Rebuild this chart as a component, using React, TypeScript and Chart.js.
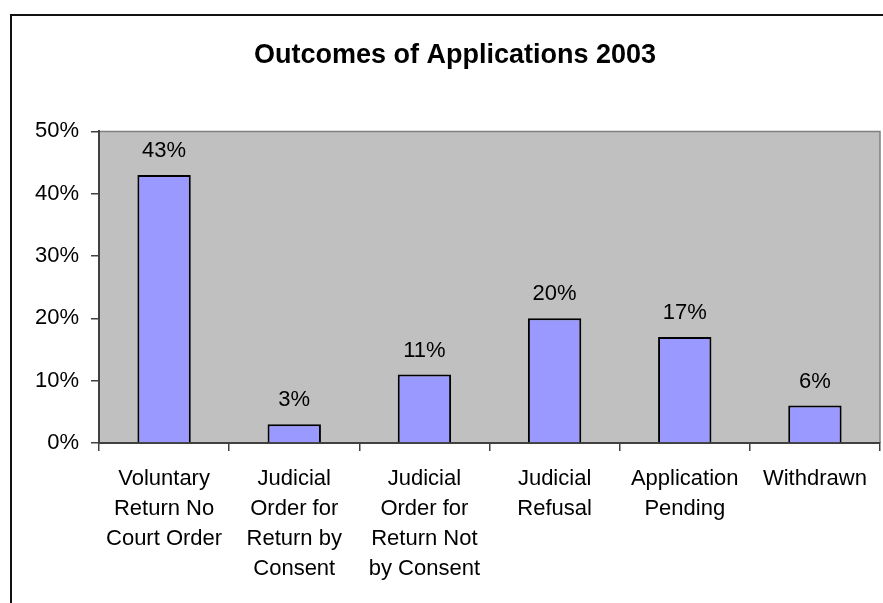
import React, { useEffect, useRef } from "react";
import { Chart, registerables } from "chart.js";

Chart.register(...registerables);

const TITLE = "Outcomes of Applications 2003";
const categories: string[][] = [
  ["Voluntary", "Return No", "Court Order"],
  ["Judicial", "Order for", "Return by", "Consent"],
  ["Judicial", "Order for", "Return Not", "by Consent"],
  ["Judicial", "Refusal"],
  ["Application", "Pending"],
  ["Withdrawn"],
];
const values: number[] = [43, 3, 11, 20, 17, 6];
const yMin = 0;
const yMax = 50;
const yStep = 10;

const FONT = "Arial, 'Liberation Sans', sans-serif";
const W = 883;
const H = 603;

const framePlugin = {
  id: "frame",
  beforeDraw(chart: any) {
    const { ctx, chartArea: a } = chart;
    ctx.save();
    ctx.fillStyle = "#ffffff";
    ctx.fillRect(0, 0, chart.width, chart.height);
    ctx.fillStyle = "#C0C0C0";
    ctx.fillRect(a.left, a.top, a.right - a.left, a.bottom - a.top);
    ctx.strokeStyle = "#808080";
    ctx.lineWidth = 1.5;
    ctx.beginPath();
    ctx.moveTo(a.left, a.top);
    ctx.lineTo(a.right, a.top);
    ctx.lineTo(a.right, a.bottom);
    ctx.stroke();
    ctx.strokeStyle = "#111111";
    ctx.lineWidth = 2;
    ctx.beginPath();
    ctx.moveTo(11, chart.height);
    ctx.lineTo(11, 15);
    ctx.lineTo(chart.width, 15);
    ctx.stroke();
    ctx.restore();
  },
  afterDatasetsDraw(chart: any) {
    const { ctx } = chart;
    const meta = chart.getDatasetMeta(0);
    ctx.save();
    ctx.fillStyle = "#000000";
    ctx.font = `22px ${FONT}`;
    ctx.textAlign = "center";
    ctx.textBaseline = "middle";
    meta.data.forEach((bar: any, i: number) => {
      ctx.fillText(values[i] + "%", bar.x, bar.y - 24);
    });
    ctx.restore();
  },
};

export default function App() {
  const ref = useRef<HTMLCanvasElement | null>(null);

  useEffect(() => {
    if (!ref.current) return;
    const chart = new Chart(ref.current, {
      type: "bar",
      data: {
        labels: categories,
        datasets: [
          {
            data: values,
            backgroundColor: "#9999FF",
            borderColor: "#000000",
            borderWidth: 2,
            categoryPercentage: 1,
            barPercentage: 0.41,
          },
        ],
      },
      options: {
        responsive: false,
        animation: false,
        layout: { padding: { left: 30, right: 3, top: 0, bottom: 0 } },
        plugins: {
          legend: { display: false },
          tooltip: { enabled: false },
          title: {
            display: true,
            text: TITLE,
            color: "#000000",
            font: { family: FONT, size: 27, weight: "bold", lineHeight: 1.2 },
            padding: { top: 39, bottom: 60 },
          },
        },
        scales: {
          x: {
            afterFit(scale: any) {
              scale.height = 160;
            },
            grid: {
              offset: true,
              drawOnChartArea: false,
              drawTicks: true,
              tickLength: 8,
              color: "#404040",
              lineWidth: 1.5,
            },
            border: { display: true, color: "#404040", width: 2 },
            ticks: {
              color: "#000000",
              font: { family: FONT, size: 22, lineHeight: 30 / 22 },
              padding: 13,
              maxRotation: 0,
              autoSkip: false,
            },
          },
          y: {
            min: yMin,
            max: yMax,
            afterFit(scale: any) {
              scale.width = 69;
            },
            grid: {
              drawOnChartArea: false,
              drawTicks: true,
              tickLength: 8,
              color: "#404040",
              lineWidth: 1.5,
            },
            border: { display: true, color: "#404040", width: 2 },
            ticks: {
              stepSize: yStep,
              color: "#000000",
              font: { family: FONT, size: 22 },
              padding: 12,
              callback: (v: any) => v + "%",
            },
          },
        },
      },
      plugins: [framePlugin],
    } as any);
    return () => chart.destroy();
  }, []);

  return (
    <div style={{ position: "fixed", left: 0, top: 0, width: W, height: H, background: "#fff" }}>
      <canvas ref={ref} width={W} height={H} style={{ display: "block", width: W, height: H }} />
    </div>
  );
}
